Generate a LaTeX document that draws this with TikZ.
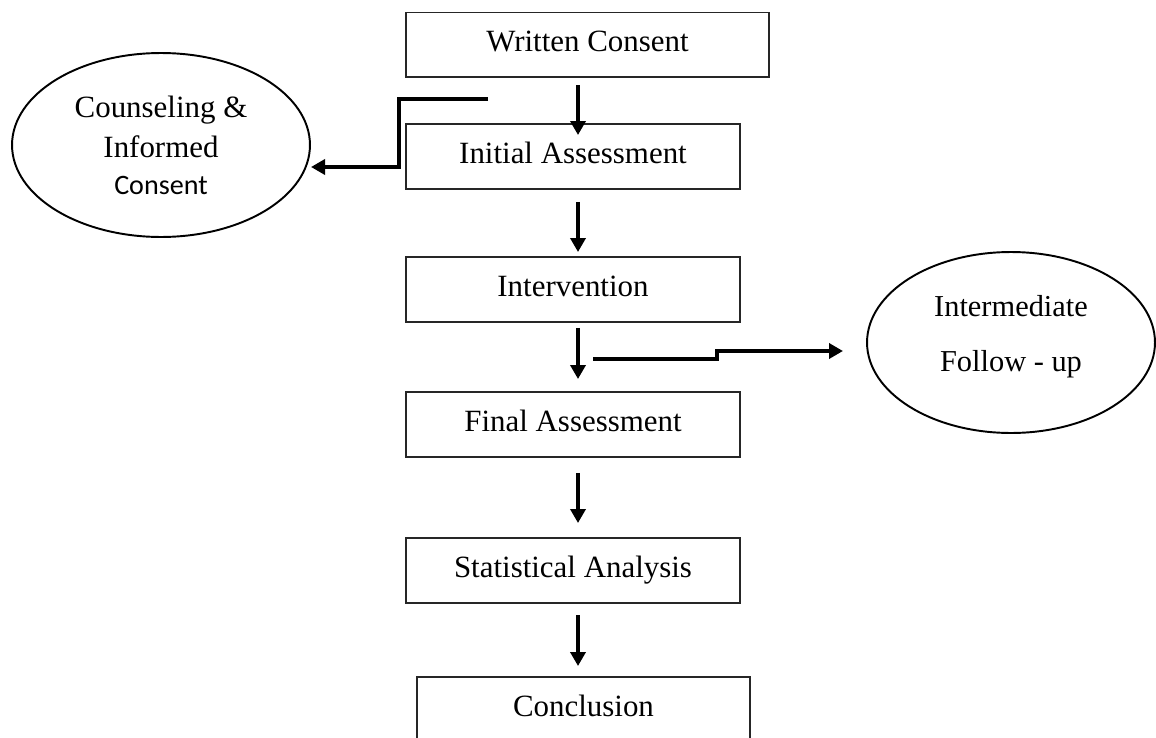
\documentclass[tikz,border=0pt]{standalone}
\usepackage{fontspec}
\setmainfont{Liberation Serif}
\newfontfamily\calibrifont{Carlito}
\usetikzlibrary{shapes.geometric,arrows.meta}
\begin{document}
\begin{tikzpicture}[x=0.02cm,y=-0.02cm,
  stepbox/.style={draw=black!85, line width=0.8pt, rectangle, minimum height=1.3cm,
    inner sep=0pt, outer sep=0pt, font=\fontsize{17.6}{21}\selectfont,
    text height=12.3pt, text depth=4.4pt},
  oval/.style={draw=black, line width=1.1pt, ellipse, inner sep=0pt, outer sep=0pt, align=center},
  conn/.style={line width=2.4pt, -{Triangle[length=0.28cm,width=0.3cm]}}
]
\useasboundingbox (0,0) rectangle (1156,737);

% boxes
\node[stepbox, minimum width=7.26cm] (wc) at (587.5,44.7) {Written Consent};
\node[stepbox, minimum width=6.68cm] (ia) at (573,156.5) {Initial Assessment};
\node[stepbox, minimum width=6.68cm] (iv) at (573,289.5) {Intervention};
\node[stepbox, minimum width=6.68cm] (fa) at (573,424.5) {Final Assessment};
\node[stepbox, minimum width=6.68cm] (sa) at (573,570.5) {Statistical Analysis};
\node[stepbox, minimum width=6.66cm] (co) at (583.5,709.5) {Conclusion};

% ellipses
\node[oval, minimum width=5.96cm, minimum height=3.68cm,
      font=\fontsize{17.6}{22.7}\selectfont] (cic) at (161,145)
  {Counseling \&\\ Informed\\[-1.7pt] {\calibrifont\fontsize{16}{19}\selectfont Consent}};
\node[oval, minimum width=5.76cm, minimum height=3.62cm,
      font=\fontsize{17.3}{31.2}\selectfont, text depth=10pt] (ifu) at (1011,342.5)
  {Intermediate\\ Follow - up};

% vertical flow arrows
\draw[conn] ([shift={(-9.5,8.3)}]wc.south) -- ([shift={(5,11)}]ia.north);
\draw[conn] ([shift={(5,13)}]ia.south) -- ([shift={(5,-5)}]iv.north);
\draw[conn] ([shift={(5,6)}]iv.south) -- ([shift={(5,-13)}]fa.north);
\draw[conn] ([shift={(5,16)}]fa.south) -- ([shift={(5,-15)}]sa.north);
\draw[conn] ([shift={(5,12)}]sa.south) -- ([shift={(-5.5,-11)}]co.north);

% side connectors
\coordinate (cs) at (488,99);
\coordinate (ct) at (311,167);
\draw[conn] (cs) -- (399,99) -- (399,167) -- (ct);

\coordinate (fs) at (593,359);
\coordinate (ft) at (843,351);
\draw[conn] (fs) -- (717,359) -- (717,351) -- (ft);
\end{tikzpicture}
\end{document}
